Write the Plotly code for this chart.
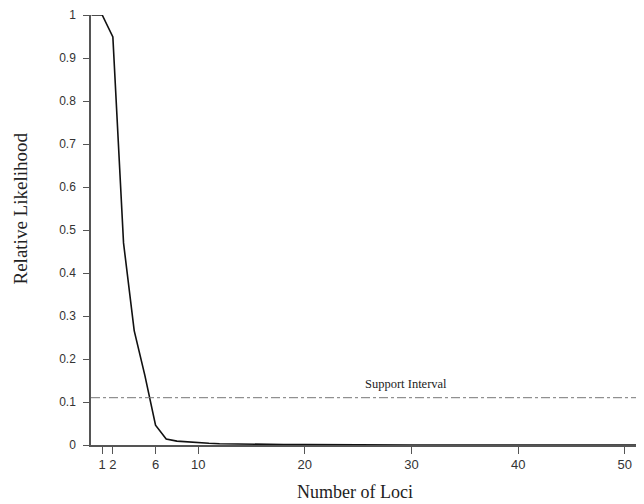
import plotly.graph_objects as go

# Data
loci = [0, 1, 2, 3, 4, 5, 6, 7, 8, 9, 10, 11, 12, 13, 14, 15, 16, 18, 20, 22, 30, 40, 50, 52]
likelihood = [1.0, 1.0, 0.949, 0.47, 0.266, 0.162, 0.046, 0.014, 0.009, 0.007, 0.005,
              0.004, 0.003, 0.0025, 0.002, 0.0015, 0.0012, 0.001, 0.0008, 0.0005,
              0.0, 0.0, 0.0, 0.0]
support_level = 0.11
support_label = "Support Interval"
x_title = "Number of Loci"
y_title = "Relative Likelihood"
x_ticks = [1, 2, 6, 10, 20, 30, 40, 50]
y_ticks = [0, 0.1, 0.2, 0.3, 0.4, 0.5, 0.6, 0.7, 0.8, 0.9, 1]
y_tick_text = ["0", "0.1", "0.2", "0.3", "0.4", "0.5", "0.6", "0.7", "0.8", "0.9", "1"]

fig = go.Figure()
fig.add_trace(go.Scatter(
    x=loci, y=likelihood, mode="lines",
    line=dict(color="#111111", width=1.6), showlegend=False, hoverinfo="skip"))

fig.add_hline(y=support_level, line=dict(color="#777777", width=1, dash="dashdot"))
fig.add_annotation(x=29.5, y=support_level, yshift=14, text=support_label, showarrow=False,
                   font=dict(family="Liberation Serif", size=12.5, color="#222222"))

# axis titles placed as annotations (relative to the plotting area)
fig.add_annotation(xref="paper", yref="paper", x=0.477, y=0, yshift=-47,
                   xanchor="center", yanchor="middle",
                   text=x_title, showarrow=False,
                   font=dict(family="Liberation Serif", size=18, color="#222222"))
fig.add_annotation(xref="paper", yref="paper", x=0, xshift=-71, y=0.55,
                   xanchor="center", yanchor="middle",
                   text=y_title, textangle=-90, showarrow=False,
                   font=dict(family="Liberation Serif", size=19, color="#222222"))

# page body has an 8px margin, so the figure is sized to end at the window edge
fig.update_layout(
    width=636, height=496,
    margin=dict(l=83, r=0, t=7, b=59, autoexpand=False),
    paper_bgcolor="white", plot_bgcolor="white",
    xaxis=dict(range=[-0.05, 51.8], tickmode="array", tickvals=x_ticks, automargin=False,
               showgrid=False, zeroline=False, showline=True, linecolor="#555555", linewidth=1.5,
               ticks="outside", ticklen=7, tickwidth=1.2, tickcolor="#555555",
               ticklabeloverflow="allow",
               tickfont=dict(family="Liberation Sans", size=13, color="#333333")),
    yaxis=dict(range=[0, 1], tickmode="array", tickvals=y_ticks, ticktext=y_tick_text,
               automargin=False, ticklabelstandoff=5, ticklabeloverflow="allow",
               showgrid=False, zeroline=False, showline=True, linecolor="#555555", linewidth=1.5,
               ticks="outside", ticklen=6, tickwidth=1.2, tickcolor="#555555",
               tickfont=dict(family="Liberation Sans", size=12, color="#333333")),
)

fig.write_html("out.html")
